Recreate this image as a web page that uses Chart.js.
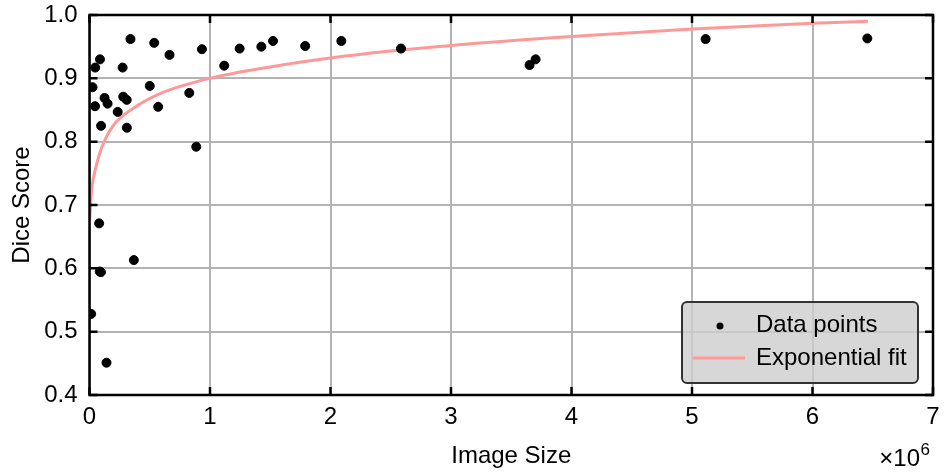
<!DOCTYPE html>
<html>
<head>
<meta charset="utf-8">
<script src="https://cdn.jsdelivr.net/npm/chart.js@4.4.1/dist/chart.umd.min.js"></script>
<style>
  html, body { margin: 0; padding: 0; background: #fff; }
  #wrap { width: 945px; height: 476px; }
</style>
</head>
<body>
<div id="wrap"><canvas id="diceChart"></canvas></div>
<script>
// image size (pixels) and dice score
const imageSize = [14000, 141000, 85000, 95000, 368000, 80000, 886000, 96000, 310000, 234000,
  46000, 570000, 150000, 125000, 280000, 309000, 828000, 25000, 500000, 47000,
  275000, 87000, 1118000, 340000, 537000, 664000, 933000, 1246000, 1426000, 1523000,
  1790000, 2090000, 2585000, 3652000, 3702000, 5113000, 6455000];
const diceScore = [0.528, 0.451, 0.595, 0.594, 0.613, 0.671, 0.792, 0.825, 0.822, 0.847,
  0.856, 0.855, 0.860, 0.869, 0.871, 0.866, 0.877, 0.886, 0.888, 0.917,
  0.917, 0.930, 0.920, 0.962, 0.956, 0.937, 0.946, 0.947, 0.950, 0.959,
  0.951, 0.959, 0.947, 0.921, 0.930, 0.962, 0.963];

// fitted curve
const fitSize = [4000, 10000, 20000, 50000, 100000, 200000, 350000, 600000, 1000000, 1500000,
  2000000, 2500000, 3000000, 4000000, 5000000, 6000000, 6460000];
const fitScore = [0.680, 0.705, 0.728, 0.757, 0.790, 0.826, 0.851, 0.877, 0.900, 0.918,
  0.932, 0.943, 0.952, 0.966, 0.978, 0.987, 0.990];

const legendLabels = ['Data points', 'Exponential fit'];
const xTitle = 'Image Size';
const yTitle = 'Dice Score';

const FONT = '"Liberation Sans", Arial, Helvetica, sans-serif';
const fitColor = 'rgb(255,153,153)';

const frame = {
  id: 'frame',
  afterDatasetsDraw(chart) {
    const { ctx, chartArea: a, scales: { x, y } } = chart;
    ctx.save();
    // inward ticks on all four sides
    ctx.strokeStyle = '#000';
    ctx.lineWidth = 2.5;
    ctx.beginPath();
    x.ticks.forEach(t => {
      const px = x.getPixelForValue(t.value);
      ctx.moveTo(px, a.bottom); ctx.lineTo(px, a.bottom - 8);
      ctx.moveTo(px, a.top); ctx.lineTo(px, a.top + 8);
    });
    y.ticks.forEach(t => {
      const py = y.getPixelForValue(t.value);
      ctx.moveTo(a.left, py); ctx.lineTo(a.left + 8, py);
      ctx.moveTo(a.right, py); ctx.lineTo(a.right - 8, py);
    });
    ctx.stroke();
    ctx.strokeRect(a.left, a.top, a.right - a.left, a.bottom - a.top);

    // legend box
    const bx = a.right - 251, by = a.bottom - 93, bw = 236, bh = 81;
    ctx.fillStyle = 'rgba(205,205,205,0.8)';
    ctx.strokeStyle = '#333';
    ctx.lineWidth = 2;
    ctx.beginPath();
    ctx.roundRect(bx, by, bw, bh, 5);
    ctx.fill();
    ctx.stroke();

    ctx.fillStyle = '#000';
    ctx.beginPath();
    ctx.arc(bx + 38, by + 24, 3.5, 0, Math.PI * 2);
    ctx.fill();
    ctx.strokeStyle = fitColor;
    ctx.lineWidth = 3;
    ctx.beginPath();
    ctx.moveTo(bx + 11, by + 56); ctx.lineTo(bx + 63, by + 56);
    ctx.stroke();

    ctx.fillStyle = '#000';
    ctx.font = '24px ' + FONT;
    ctx.textBaseline = 'middle';
    ctx.textAlign = 'left';
    ctx.fillText(legendLabels[0], bx + 74, by + 23);
    ctx.fillText(legendLabels[1], bx + 74, by + 56);

    // x10^6 multiplier
    ctx.textAlign = 'right';
    ctx.font = '17px ' + FONT;
    ctx.fillText('6', 930, 450);
    ctx.font = '24px ' + FONT;
    ctx.fillText('\u00d710', 920, 459);
    ctx.restore();
  }
};

const ctx = document.getElementById('diceChart').getContext('2d');
new Chart(ctx, {
  type: 'scatter',
  data: {
    datasets: [{
      label: legendLabels[0],
      data: imageSize.map((s, i) => ({ x: s, y: diceScore[i] })),
      backgroundColor: '#000',
      borderColor: '#000',
      pointRadius: 4.5,
      pointHoverRadius: 4.5,
      order: 0
    }, {
      label: legendLabels[1],
      type: 'line',
      data: fitSize.map((s, i) => ({ x: s, y: fitScore[i] })),
      borderColor: fitColor,
      borderWidth: 3,
      pointRadius: 0,
      cubicInterpolationMode: 'monotone',
      fill: false,
      order: 1
    }]
  },
  options: {
    responsive: true,
    maintainAspectRatio: false,
    animation: false,
    layout: { padding: { top: 15, right: 12, left: 0, bottom: 0 } },
    plugins: {
      legend: { display: false },
      tooltip: { enabled: false }
    },
    scales: {
      x: {
        type: 'linear',
        min: 0, max: 7000000,
        afterFit(scale) { scale.height = 81; scale.paddingLeft = 0; scale.paddingRight = 0; },
        grid: { color: '#b3b3b3', lineWidth: 2, drawTicks: false },
        border: { display: false },
        ticks: {
          stepSize: 1000000,
          padding: 8,
          color: '#000',
          font: { family: FONT, size: 24 },
          callback: v => String(v / 1000000)
        },
        title: {
          display: true, text: xTitle, color: '#000',
          font: { family: FONT, size: 24 },
          padding: { top: 4, bottom: 5 }
        }
      },
      y: {
        min: 0.4, max: 1.0,
        afterFit(scale) { scale.width = 89.5; scale.paddingTop = 0; scale.paddingBottom = 0; },
        grid: { color: '#b3b3b3', lineWidth: 2, drawTicks: false },
        border: { display: false },
        ticks: {
          stepSize: 0.1,
          padding: 12,
          color: '#000',
          font: { family: FONT, size: 24 },
          callback: v => v.toFixed(1)
        },
        title: {
          display: true, text: yTitle, color: '#000',
          font: { family: FONT, size: 24 },
          padding: { top: 8, bottom: 0 }
        }
      }
    }
  },
  plugins: [frame]
});
</script>
</body>
</html>
